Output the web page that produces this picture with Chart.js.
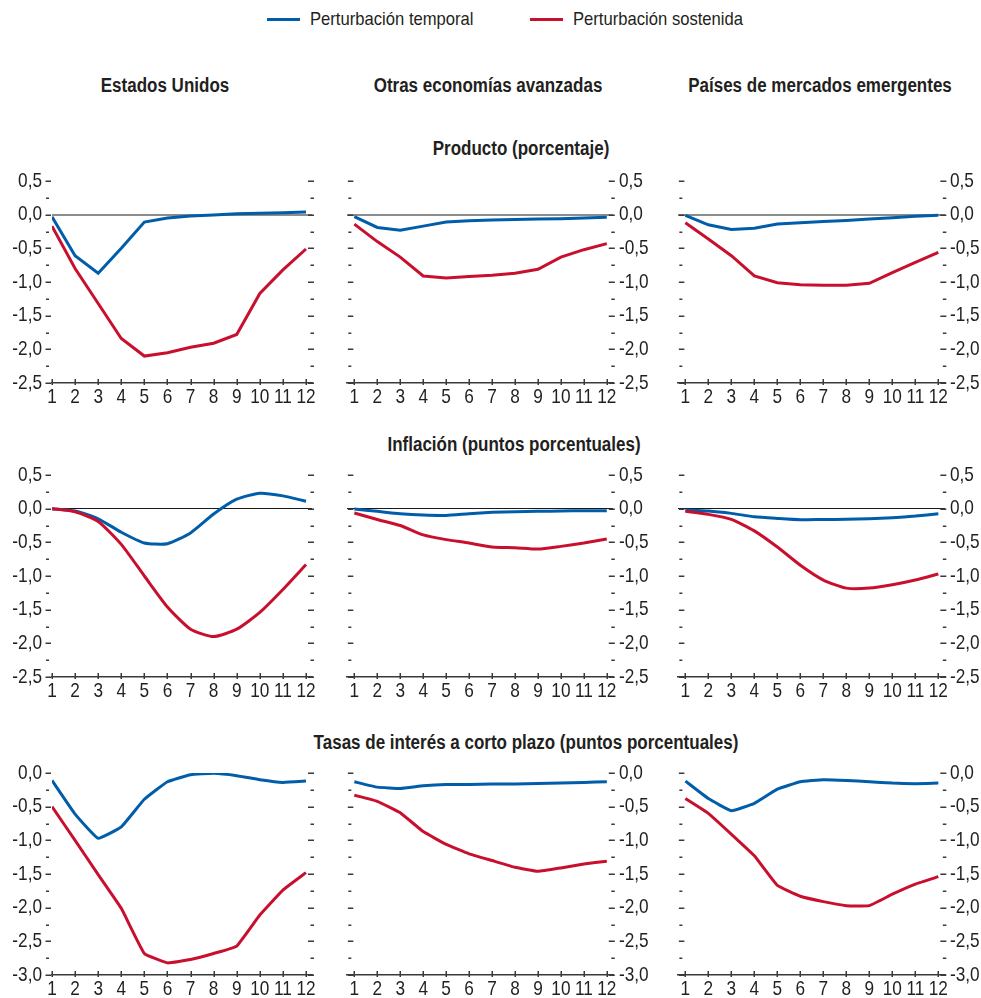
<!DOCTYPE html>
<html lang="es">
<head>
<meta charset="utf-8">
<title>Perturbaciones: respuestas</title>
<script src="https://cdn.jsdelivr.net/npm/chart.js@4.4.1/dist/chart.umd.min.js"></script>
<style>
  html, body { margin: 0; padding: 0; background: #fff; overflow: hidden; }
  body { width: 981px; height: 998px; position: relative;
         font-family: 'Liberation Sans', Arial, sans-serif; color: #231f20; }
  .t { position: absolute; white-space: nowrap; font-weight: bold; font-size: 20px; line-height: 24px;
       transform: translate(-50%, -50%) scaleX(0.85); }
  .lg { position: absolute; white-space: nowrap; font-size: 19px; line-height: 22px;
        transform-origin: left center; transform: translateY(-50%) scaleX(0.875); }
  .sw { position: absolute; height: 3px; }
  canvas { position: absolute; }
</style>
</head>
<body>
<div class="sw" style="left:267px; top:18px; width:33px; background:#005DAA"></div>
<div class="lg" style="left:310px; top:19px">Perturbación temporal</div>
<div class="sw" style="left:530px; top:18px; width:33px; background:#C8102E"></div>
<div class="lg" style="left:573px; top:19px">Perturbación sostenida</div>

<div class="t" style="left:165px; top:85px">Estados Unidos</div>
<div class="t" style="left:488px; top:85px">Otras economías avanzadas</div>
<div class="t" style="left:820px; top:85px">Países de mercados emergentes</div>

<div class="t" style="left:521px; top:148px">Producto (porcentaje)</div>
<div class="t" style="left:514px; top:444px">Inflación (puntos porcentuales)</div>
<div class="t" style="left:526px; top:742px">Tasas de interés a corto plazo (puntos porcentuales)</div>

<script>
// Periods after the shock
const periods = [1, 2, 3, 4, 5, 6, 7, 8, 9, 10, 11, 12];

// Producto (porcentaje)
const productoEEUUTemporal   = [-0.03, -0.61, -0.87, -0.50, -0.11, -0.05, -0.02, -0.005, 0.015, 0.02, 0.03, 0.04];
const productoEEUUSostenida  = [-0.17, -0.80, -1.32, -1.84, -2.10, -2.05, -1.97, -1.91, -1.78, -1.17, -0.82, -0.51];
const productoOEATemporal    = [-0.03, -0.19, -0.23, -0.17, -0.11, -0.09, -0.08, -0.07, -0.064, -0.06, -0.05, -0.04];
const productoOEASostenida   = [-0.14, -0.40, -0.63, -0.91, -0.94, -0.92, -0.90, -0.87, -0.81, -0.63, -0.52, -0.43];
const productoPMETemporal    = [-0.01, -0.15, -0.22, -0.20, -0.14, -0.12, -0.10, -0.085, -0.064, -0.045, -0.025, -0.01];
const productoPMESostenida   = [-0.12, -0.36, -0.61, -0.91, -1.01, -1.04, -1.05, -1.05, -1.02, -0.86, -0.71, -0.56];

// Inflación (puntos porcentuales)
const inflacionEEUUTemporal  = [0.0, -0.035, -0.15, -0.35, -0.51, -0.52, -0.36, -0.08, 0.14, 0.23, 0.19, 0.11];
const inflacionEEUUSostenida = [0.0, -0.045, -0.19, -0.53, -1.00, -1.46, -1.79, -1.90, -1.79, -1.54, -1.20, -0.83];
const inflacionOEATemporal   = [-0.005, -0.04, -0.075, -0.095, -0.10, -0.075, -0.055, -0.045, -0.04, -0.035, -0.03, -0.03];
const inflacionOEASostenida  = [-0.065, -0.16, -0.25, -0.39, -0.46, -0.51, -0.57, -0.58, -0.60, -0.56, -0.51, -0.45];
const inflacionPMETemporal   = [-0.02, -0.035, -0.07, -0.12, -0.145, -0.165, -0.16, -0.158, -0.15, -0.135, -0.11, -0.075];
const inflacionPMESostenida  = [-0.04, -0.085, -0.16, -0.33, -0.57, -0.84, -1.06, -1.18, -1.18, -1.13, -1.06, -0.97];

// Tasas de interés a corto plazo (puntos porcentuales)
const tasasEEUUTemporal      = [-0.11, -0.61, -0.97, -0.80, -0.39, -0.13, -0.025, -0.005, -0.04, -0.10, -0.14, -0.12];
const tasasEEUUSostenida     = [-0.50, -1.00, -1.51, -2.01, -2.68, -2.82, -2.77, -2.68, -2.57, -2.11, -1.74, -1.48];
const tasasOEATemporal       = [-0.13, -0.21, -0.23, -0.19, -0.17, -0.17, -0.165, -0.165, -0.155, -0.15, -0.14, -0.13];
const tasasOEASostenida      = [-0.33, -0.42, -0.59, -0.87, -1.06, -1.20, -1.30, -1.40, -1.46, -1.41, -1.35, -1.31];
const tasasPMETemporal       = [-0.12, -0.38, -0.56, -0.45, -0.24, -0.13, -0.10, -0.11, -0.13, -0.15, -0.16, -0.15];
const tasasPMESostenida      = [-0.38, -0.60, -0.91, -1.23, -1.67, -1.83, -1.91, -1.97, -1.97, -1.80, -1.65, -1.54];

const seriesNames = ['Perturbación temporal', 'Perturbación sostenida'];
const BLUE = '#005DAA';
const RED = '#C8102E';
const FONT = "'Liberation Sans', Arial, sans-serif";
const INK = '#231f20';
const NARROW = 0.82;   // horizontal squeeze for a condensed look of the axis labels

const rows = [
  { top: 169, min: -2.5, max: 0.5, zero: '#8c8c8c', zeroW: 2, tension: 0,
    data: [[productoEEUUTemporal, productoEEUUSostenida], [productoOEATemporal, productoOEASostenida], [productoPMETemporal, productoPMESostenida]] },
  { top: 463, min: -2.5, max: 0.5, zero: '#1a1a1a', zeroW: 1, tension: 0.2,
    data: [[inflacionEEUUTemporal, inflacionEEUUSostenida], [inflacionOEATemporal, inflacionOEASostenida], [inflacionPMETemporal, inflacionPMESostenida]] },
  { top: 761, min: -3.0, max: 0.0, zero: 'rgba(0,0,0,0)', zeroW: 1, tension: 0.1,
    data: [[tasasEEUUTemporal, tasasEEUUSostenida], [tasasOEATemporal, tasasOEASostenida], [tasasPMETemporal, tasasPMESostenida]] }
];

const cols = [
  { left: 0,   width: 330, padL: 0,  padR: 18, yPos: 'left',  yW: 52, xMin: 1,    xMax: 12.26, yPad: 10 },
  { left: 330, width: 333, padL: 17, padR: 0,  yPos: 'right', yW: 50, xMin: 0.68, xMax: 12.27, yPad: 6 },
  { left: 660, width: 321, padL: 18, padR: 0,  yPos: 'right', yW: 36, xMin: 0.68, xMax: 12.29, yPad: 5 }
];

// Condensed rendering of the labels: each text run is squeezed around its own anchor point
const condensedText = {
  id: 'condensedText',
  beforeInit(chart) {
    const ctx = chart.ctx;
    const base = CanvasRenderingContext2D.prototype.fillText;
    ctx.fillText = function (text, x, y) {
      this.save();
      this.translate(x, y);
      this.scale(NARROW, 1);
      base.call(this, text, 0, 0);
      this.restore();
    };
  }
};

// Short tick dashes on both sides of each panel (every 0.25) and tick marks on the period axis
const panelMarks = {
  id: 'panelMarks',
  afterDraw(chart) {
    const { ctx, scales: { x, y } } = chart;
    const p1 = x.getPixelForValue(periods[0]);
    const pN = x.getPixelForValue(periods[periods.length - 1]);
    ctx.save();
    ctx.strokeStyle = '#3a3a3a';
    ctx.lineWidth = 1.5;
    ctx.beginPath();
    const steps = Math.round((y.max - y.min) / 0.25);
    for (let i = 0; i <= steps; i++) {
      const v = y.min + i * 0.25;
      const py = Math.round(y.getPixelForValue(v)) + 0.25;
      if (i % 2 === 0) {
        ctx.moveTo(p1 - 6.5, py); ctx.lineTo(p1 - 1, py);
        ctx.moveTo(pN + 2, py); ctx.lineTo(pN + 8, py);
      } else {
        ctx.moveTo(p1 - 6, py); ctx.lineTo(p1 - 3, py);
        ctx.moveTo(pN + 4.5, py); ctx.lineTo(pN + 8, py);
      }
    }
    const by = chart.chartArea.bottom;
    periods.forEach(p => {
      const px = Math.round(x.getPixelForValue(p)) + 0.25;
      ctx.moveTo(px, by - 4); ctx.lineTo(px, by + 2);
    });
    ctx.stroke();
    ctx.restore();
  }
};

const fmt = v => v.toFixed(1).replace('.', ',').replace('-0,0', '0,0');

rows.forEach((row, r) => {
  cols.forEach((col, c) => {
    const plotH = Math.round((row.max - row.min) * 67.3);
    const xH = 26;
    const h = 12 + plotH + xH;
    const cv = document.createElement('canvas');
    cv.width = col.width; cv.height = h;
    cv.style.left = col.left + 'px'; cv.style.top = row.top + 'px';
    cv.style.width = col.width + 'px'; cv.style.height = h + 'px';
    document.body.appendChild(cv);

    const [temp, sost] = row.data[c];
    new Chart(cv, {
      type: 'line',
      data: {
        datasets: [
          { label: seriesNames[0], data: periods.map((p, i) => ({ x: p, y: temp[i] })),
            borderColor: BLUE, borderWidth: 3, pointRadius: 0, tension: row.tension, order: 2 },
          { label: seriesNames[1], data: periods.map((p, i) => ({ x: p, y: sost[i] })),
            borderColor: RED, borderWidth: 3, pointRadius: 0, tension: row.tension, order: 1 }
        ]
      },
      options: {
        responsive: false,
        animation: false,
        devicePixelRatio: 1,
        layout: { padding: { top: 12, bottom: 0, left: col.padL, right: col.padR } },
        plugins: { legend: { display: false }, tooltip: { enabled: false } },
        scales: {
          x: {
            type: 'linear', min: col.xMin, max: col.xMax,
            afterBuildTicks: s => { s.ticks = periods.map(p => ({ value: p })); },
            afterFit: s => { s.height = xH; s.paddingLeft = 0; s.paddingRight = 0; },
            grid: { display: false, drawTicks: false },
            border: { display: true, color: '#3a3a3a', width: 1.5 },
            ticks: { autoSkip: false, maxRotation: 0, minRotation: 0, padding: 2, color: INK,
                     font: { family: FONT, size: 21 }, callback: v => String(v) }
          },
          y: {
            position: col.yPos, min: row.min, max: row.max,
            afterFit: s => { s.width = col.yW; s.paddingTop = 0; s.paddingBottom = 0; },
            grid: { drawTicks: false, color: ctx => (ctx.tick && ctx.tick.value === 0) ? row.zero : 'rgba(0,0,0,0)',
                    lineWidth: row.zeroW },
            border: { display: false },
            ticks: { stepSize: 0.5, padding: col.yPad, color: INK,
                     font: { family: FONT, size: 21 }, callback: v => fmt(v) }
          }
        }
      },
      plugins: [condensedText, panelMarks]
    });
  });
});
</script>
</body>
</html>
